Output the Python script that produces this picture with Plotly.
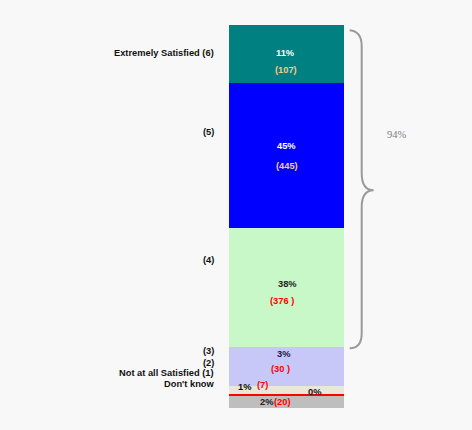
import plotly.graph_objects as go

# ---- data (bottom-up segment order) ----
segments = ["Missing", "Not at all Satisfied (1)", "Don't know", "(2)-(3)", "(4)", "(5)", "Extremely Satisfied (6)"]
heights = [3.05, 0.70, 2.09, 10.08, 31.17, 37.86, 15.04]   # drawn heights
colors = ["#BEBEBE", "#FF0000", "#EAE6DA", "#C8C8F8", "#C8F8C8", "#0000FF", "#008080"]

scale_labels = ["Extremely Satisfied (6)", "(5)", "(4)", "(3)", "(2)", "Not at all Satisfied (1)", "Don't know"]
pct_labels = ["11%", "45%", "38%", "3%", "1%", "0%", "2%"]
count_labels = ["(107)", "(445)", "(376 )", "(30 )", "(7)", "(20)"]
bracket_label = "94%"

# ---- geometry (pixels) ----
W_FIG, H_FIG = 472, 430
L, R, T, B = 229.3, 344.3, 24.7, 407.7


def px(x):
    return (x - L) / (R - L)


def py(y):
    return (B - y) / (B - T)


fig = go.Figure()
for name, h, c in zip(segments, heights, colors):
    fig.add_trace(go.Bar(x=[0], y=[h], name=name, marker=dict(color=c, line=dict(width=0)),
                         width=1, hoverinfo="skip", showlegend=False))

ann = []
FS = 9.3
lab_font = dict(family="Liberation Sans, Arial", size=FS, color="#111111")
left_pos = [52.7, 131.7, 259.3, 351, 362.3, 372.7, 383.3]
for t, y in zip(scale_labels, left_pos):
    ann.append(dict(text="<b>%s</b>" % t, x=px(216.5), y=py(y), xref="paper", yref="paper",
                    xanchor="right", yanchor="middle", showarrow=False, font=lab_font))

bold = "Liberation Sans, Arial"
pct_spec = [  # x, y, color
    (286, 53, "#FFFFFF"), (287, 145.7, "#FFFFFF"), (288, 283.3, "#222222"),
    (284, 354, "#1A1A4A"), (245, 386.7, "#111111"), (315, 391.7, "#111111"), (267, 401.7, "#222222"),
]
for t, (x, y, c) in zip(pct_labels, pct_spec):
    ann.append(dict(text="<b>%s</b>" % t, x=px(x), y=py(y), xref="paper", yref="paper",
                    xanchor="center", yanchor="middle", showarrow=False,
                    font=dict(family=bold, size=FS, color=c)))

cnt_spec = [
    (286, 70, "#F5C98A"), (287, 166, "#F5C98A"), (282, 301, "#FF0000"),
    (280.5, 368.3, "#FF0000"), (262.7, 385, "#FF0000"), (282.7, 401.7, "#FF0000"),
]
for t, (x, y, c) in zip(count_labels, cnt_spec):
    ann.append(dict(text="<b>%s</b>" % t, x=px(x), y=py(y), xref="paper", yref="paper",
                    xanchor="center", yanchor="middle", showarrow=False,
                    font=dict(family=bold, size=FS, color=c)))

ann.append(dict(text=bracket_label, x=px(397.7), y=py(134), xref="paper", yref="paper",
                xanchor="center", yanchor="middle", showarrow=False,
                font=dict(family="Liberation Serif, Times New Roman", size=10.5, color="#808080")))

# curly brace
pts = [(350, 30), (362, 31), (362, 46), (362, 173), (362, 190), (374, 190),
       (362, 190), (362, 207), (362, 333), (362, 348), (350, 348)]
P = [(px(a), py(b)) for a, b in pts]
path = "M %f %f Q %f %f %f %f L %f %f Q %f %f %f %f Q %f %f %f %f L %f %f Q %f %f %f %f" % (
    P[0] + P[1] + P[2] + P[3] + P[4] + P[5] + P[6] + P[7] + P[8] + P[9] + P[10])
shapes = [dict(type="path", path=path, xref="paper", yref="paper",
               line=dict(color="#9A9A9A", width=2))]

fig.update_layout(
    barmode="stack", bargap=0,
    width=W_FIG, height=H_FIG,
    margin=dict(l=L, r=W_FIG - R, t=T, b=H_FIG - B, pad=0),
    paper_bgcolor="#F8F8F8", plot_bgcolor="#F8F8F8",
    xaxis=dict(range=[-0.5, 0.5], visible=False, fixedrange=True),
    yaxis=dict(range=[0, 100], visible=False, fixedrange=True),
    annotations=ann, shapes=shapes,
)

fig.write_html("out.html", config={"displayModeBar": False},
               post_script="document.body.style.margin='0';document.body.style.background='#F8F8F8';")
